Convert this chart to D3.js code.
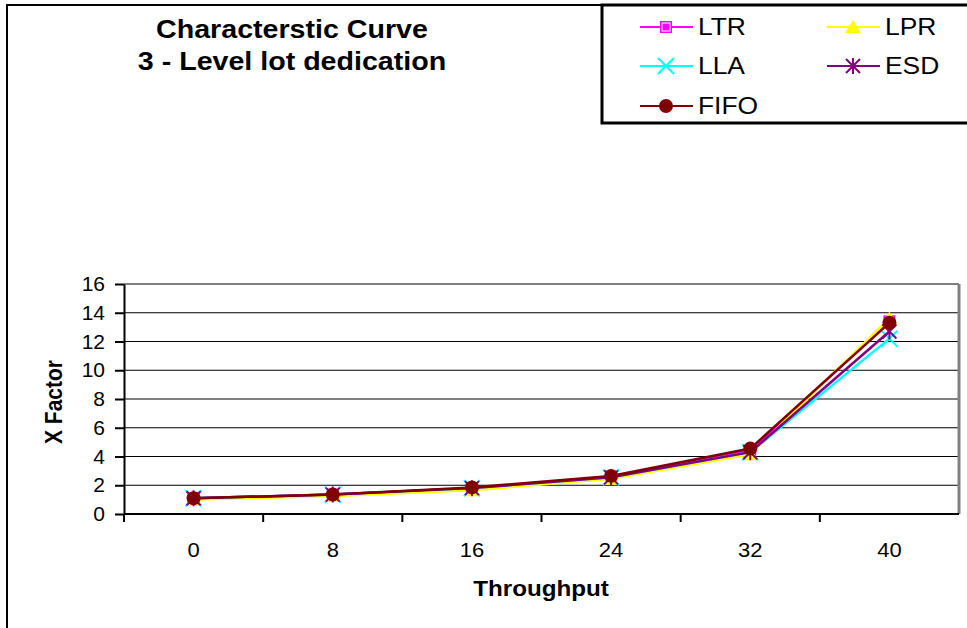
<!DOCTYPE html>
<html>
<head>
<meta charset="utf-8">
<script src="https://cdn.jsdelivr.net/npm/d3@7"></script>
<style>
  body { margin: 0; background: #fff; }
  svg { display: block; font-family: "Liberation Sans", Arial, sans-serif; }
</style>
</head>
<body>
<div id="chart"></div>
<script>
// Data
const categories = ["0", "8", "16", "24", "32", "40"];
const yTicks = [0, 2, 4, 6, 8, 10, 12, 14, 16];
const ltr  = [1.1, 1.35, 1.8, 2.6, 4.4, 13.4];
const lpr  = [1.0, 1.25, 1.65, 2.45, 4.15, 13.6];
const lla  = [1.1, 1.35, 1.8, 2.55, 4.3, 12.2];
const esd  = [1.1, 1.35, 1.8, 2.55, 4.3, 12.7];
const fifo = [1.1, 1.35, 1.85, 2.65, 4.55, 13.3];

const series = [
    { name: "LTR",  values: ltr,  color: "#ff00ff", marker: "square" },
    { name: "LPR",  values: lpr,  color: "#ffff00", marker: "triangle" },
    { name: "LLA",  values: lla,  color: "#00ffff", marker: "x" },
    { name: "ESD",  values: esd,  color: "#800080", marker: "star" },
    { name: "FIFO", values: fifo, color: "#800000", marker: "circle" }
];

const width = 967, height = 628;
const plot = { left: 124, right: 959, top: 284, bottom: 514 };
const sx = 1.1; // the original render is a bit wider than tall

const svg = d3.select("#chart").append("svg")
    .attr("width", width)
    .attr("height", height);

// chart frame
svg.append("rect")
    .attr("x", 7).attr("y", 5)
    .attr("width", 1100).attr("height", 800)
    .attr("fill", "none")
    .attr("stroke", "#000")
    .attr("stroke-width", 2);

const x = d3.scaleBand().domain(categories).range([plot.left, plot.right]);
const y = d3.scaleLinear().domain([0, 16]).range([plot.bottom, plot.top]);
const cx = d => x(d) + x.bandwidth() / 2;

// gridlines
svg.append("g")
    .selectAll("line")
    .data(yTicks.filter(t => t > 0))
    .join("line")
    .attr("x1", plot.left).attr("x2", plot.right)
    .attr("y1", d => y(d)).attr("y2", d => y(d))
    .attr("stroke", d => d === 16 ? "#808080" : "#000")
    .attr("stroke-width", d => d === 16 ? 2 : 1);

// plot area right border
svg.append("line")
    .attr("x1", plot.right).attr("x2", plot.right)
    .attr("y1", plot.top).attr("y2", plot.bottom)
    .attr("stroke", "#808080").attr("stroke-width", 3);

// y axis
const yAxis = svg.append("g")
    .attr("transform", `translate(${plot.left},0)`)
    .call(d3.axisLeft(y).tickValues(yTicks).tickSize(9).tickPadding(10).tickSizeOuter(0));
yAxis.select(".domain").attr("stroke-width", 2);
yAxis.selectAll(".tick line").attr("stroke-width", 2);
yAxis.selectAll(".tick text")
    .attr("font-size", 21)
    .attr("font-family", "Liberation Sans, Arial, sans-serif")
    .attr("fill", "#000");

// x axis: ticks between categories
svg.append("line")
    .attr("x1", plot.left).attr("x2", plot.right)
    .attr("y1", plot.bottom).attr("y2", plot.bottom)
    .attr("stroke", "#000").attr("stroke-width", 2);

svg.append("g")
    .selectAll("line")
    .data(categories)
    .join("line")
    .attr("x1", d => x(d)).attr("x2", d => x(d))
    .attr("y1", plot.bottom).attr("y2", plot.bottom + 8)
    .attr("stroke", "#000").attr("stroke-width", 2);

svg.append("g")
    .selectAll("text")
    .data(categories)
    .join("text")
    .attr("transform", d => `translate(${cx(d)},557) scale(${sx},1)`)
    .attr("text-anchor", "middle")
    .attr("font-size", 20)
    .text(d => d);

// axis titles
svg.append("text")
    .attr("transform", `translate(541,596) scale(${sx},1)`)
    .attr("text-anchor", "middle")
    .attr("font-size", 22)
    .attr("font-weight", "bold")
    .text("Throughput");

svg.append("text")
    .attr("transform", `translate(62,402) scale(${sx},1) rotate(-90)`)
    .attr("text-anchor", "middle")
    .attr("font-size", 21)
    .attr("font-weight", "bold")
    .text("X Factor");

// title
const title = svg.append("text")
    .attr("transform", `translate(292,0) scale(${sx},1)`)
    .attr("text-anchor", "middle")
    .attr("font-size", 26)
    .attr("font-weight", "bold");
title.append("tspan").attr("x", 0).attr("y", 38).text("Characterstic Curve");
title.append("tspan").attr("x", 0).attr("y", 70).text("3 - Level lot dedication");

// markers
function drawMarker(g, type, color) {
    if (type === "square") {
        g.append("rect").attr("x", -6).attr("y", -6).attr("width", 12).attr("height", 12)
            .attr("fill", color);
        g.append("rect").attr("x", -4).attr("y", -4).attr("width", 8).attr("height", 8)
            .attr("fill", "none").attr("stroke", "#fff").attr("stroke-width", 1);
    } else if (type === "triangle") {
        g.append("path").attr("d", "M0,-7L8,6L-8,6Z").attr("fill", color);
    } else if (type === "x") {
        g.append("path").attr("d", "M-8,-8L8,8M-8,8L8,-8")
            .attr("stroke", color).attr("stroke-width", 2);
    } else if (type === "star") {
        g.append("path").attr("d", "M-7,-7L7,7M-7,7L7,-7M0,-8L0,8")
            .attr("stroke", color).attr("stroke-width", 2);
    } else {
        g.append("circle").attr("r", 7).attr("fill", color);
    }
}

const line = d3.line()
    .x((d, i) => cx(categories[i]))
    .y(d => y(d));

series.forEach(s => {
    const g = svg.append("g");
    g.append("path")
        .attr("d", line(s.values))
        .attr("fill", "none")
        .attr("stroke", s.color)
        .attr("stroke-width", 2.5);
    g.selectAll("g")
        .data(s.values)
        .join("g")
        .attr("transform", (d, i) => `translate(${cx(categories[i])},${y(d)})`)
        .each(function () { drawMarker(d3.select(this), s.marker, s.color); });
});

// legend
const legend = svg.append("g");
legend.append("rect")
    .attr("x", 602).attr("y", 5)
    .attr("width", 500).attr("height", 118)
    .attr("fill", "#fff")
    .attr("stroke", "#000")
    .attr("stroke-width", 3);

const colX = [640, 827];
const rowY = [27, 66, 106];
series.forEach((s, i) => {
    const lx = colX[i % 2], ly = rowY[Math.floor(i / 2)];
    const item = legend.append("g");
    item.append("line")
        .attr("x1", lx).attr("x2", lx + 53)
        .attr("y1", ly).attr("y2", ly)
        .attr("stroke", s.color).attr("stroke-width", 2);
    const m = item.append("g").attr("transform", `translate(${lx + 26},${ly})`);
    drawMarker(m, s.marker, s.color);
    item.append("text")
        .attr("transform", `translate(${lx + 58},${ly + 8}) scale(${sx},1)`)
        .attr("font-size", 24)
        .text(s.name);
});
</script>
</body>
</html>
